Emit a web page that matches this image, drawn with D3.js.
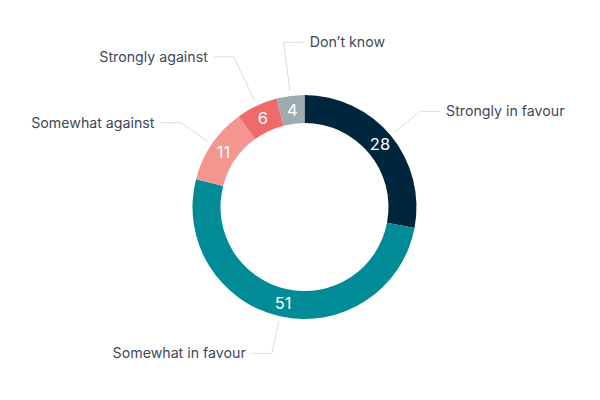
<!DOCTYPE html>
<html lang="en">
<head>
    <meta charset="UTF-8">
    <title>Opinion donut</title>
    <script src="https://d3js.org/d3.v7.min.js"></script>
    <style>
        body { margin: 0; background: #fff; }
        .label { font-family: Inter, "Noto Sans", sans-serif; font-size: 14.2px; fill: #3e4859; }
        .value { font-family: Inter, "Noto Sans", sans-serif; font-size: 16.5px; fill: #fff; }
        .connector { fill: none; stroke: #d6dde3; stroke-width: 1; }
    </style>
</head>
<body>
    <svg id="chart" width="600" height="400"></svg>

    <script>
        // Chart data, clockwise from 12 o'clock
        const categories = ["Strongly in favour", "Somewhat in favour", "Somewhat against", "Strongly against", "Don\u2019t know"];
        const values = [28, 51, 11, 6, 4];
        const colors = ["#00263e", "#008b96", "#f4958f", "#ef6b6b", "#9eabb0"];

        const cx = 304.5, cy = 207;
        const outerR = 112, innerR = 84;

        const svg = d3.select("#chart");
        const g = svg.append("g").attr("transform", `translate(${cx},${cy})`);

        const pie = d3.pie().sort(null).value(d => d.value);
        const arcs = pie(categories.map((c, i) => ({ name: c, value: values[i], color: colors[i] })));

        const arc = d3.arc().innerRadius(innerR).outerRadius(outerR);

        // Slices
        g.selectAll(".slice")
            .data(arcs)
            .enter()
            .append("path")
            .attr("class", "slice")
            .attr("d", arc)
            .attr("fill", d => d.data.color);

        // Values inside the ring
        const midArc = d3.arc().innerRadius((innerR + outerR) / 2).outerRadius((innerR + outerR) / 2);
        g.selectAll(".value")
            .data(arcs)
            .enter()
            .append("text")
            .attr("class", "value")
            .attr("transform", d => `translate(${midArc.centroid(d)})`)
            .attr("text-anchor", "middle")
            .attr("dy", "0.36em")
            .text(d => d.data.value);

        // Outside labels with connectors
        arcs.forEach(d => {
            const a = (d.startAngle + d.endAngle) / 2;
            const sin = Math.sin(a), cos = Math.cos(a);
            // thin slices sit further out so their labels clear each other
            const labelR = d.data.value < 8 ? 166 : 150;
            const p0 = [(outerR + 5) * sin, -(outerR + 5) * cos];
            const p1 = [labelR * sin, -labelR * cos];
            const toRight = sin > -0.15;
            const dir = toRight ? 1 : -1;
            const p2 = [p1[0] + dir * 20, p1[1]];

            g.append("path")
                .attr("class", "connector")
                .attr("d", d3.line()([p0, p1, p2]));

            g.append("text")
                .attr("class", "label")
                .attr("x", p2[0] + dir * 6)
                .attr("y", p2[1])
                .attr("dy", "0.35em")
                .attr("text-anchor", toRight ? "start" : "end")
                .text(d.data.name);
        });
    </script>
</body>
</html>
